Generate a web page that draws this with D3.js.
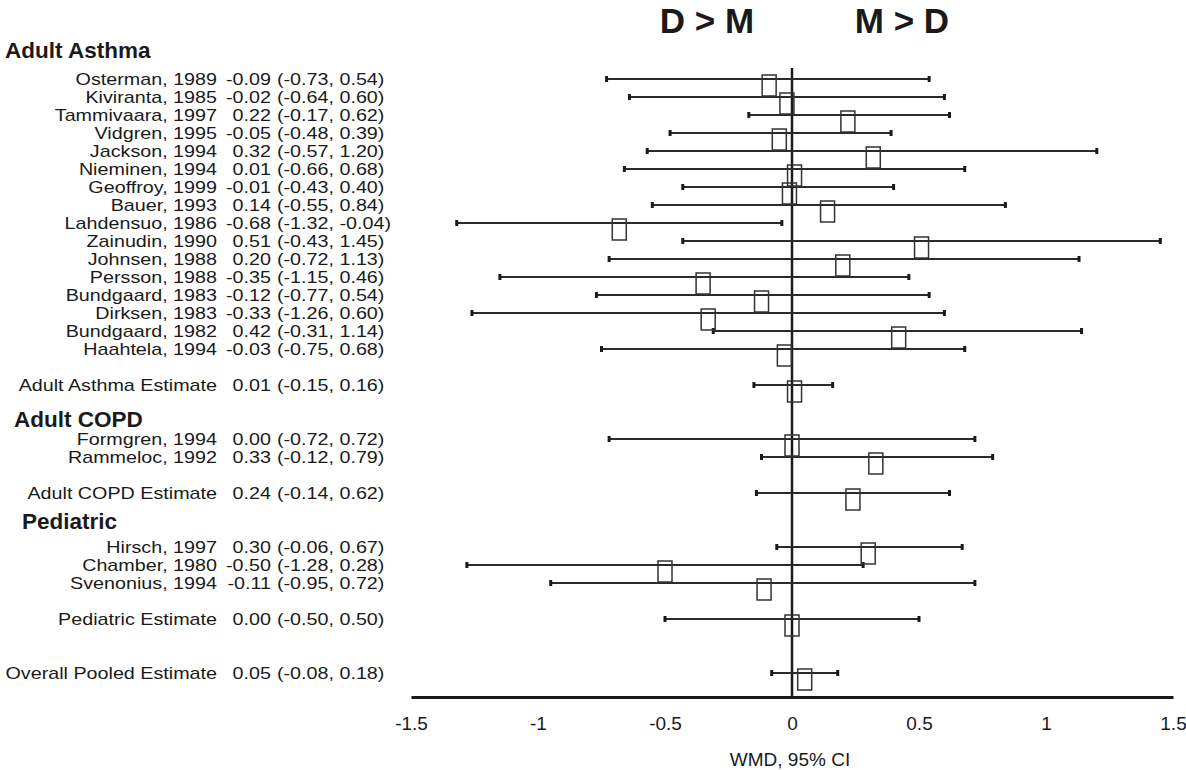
<!DOCTYPE html>
<html>
<head>
<meta charset="utf-8">
<script src="https://d3js.org/d3.v7.min.js"></script>
<style>
    body { margin: 0; background: #fff; }
    text { font-family: "Liberation Sans", Arial, sans-serif; fill: #1a1a1a; }
</style>
</head>
<body>
<div id="chart_01"></div>
<script>
// groups of the forest plot
const groupNames = ["Adult Asthma", "Adult COPD", "Pediatric"];

// studies (name, group index, WMD, lower and upper 95% CI)
const studyNames = ["Osterman, 1989", "Kiviranta, 1985", "Tammivaara, 1997", "Vidgren, 1995", "Jackson, 1994",
    "Nieminen, 1994", "Geoffroy, 1999", "Bauer, 1993", "Lahdensuo, 1986", "Zainudin, 1990", "Johnsen, 1988",
    "Persson, 1988", "Bundgaard, 1983", "Dirksen, 1983", "Bundgaard, 1982", "Haahtela, 1994",
    "Formgren, 1994", "Rammeloc, 1992",
    "Hirsch, 1997", "Chamber, 1980", "Svenonius, 1994"];
const studyGroup = [0, 0, 0, 0, 0, 0, 0, 0, 0, 0, 0, 0, 0, 0, 0, 0, 1, 1, 2, 2, 2];
const studyWmd = [-0.09, -0.02, 0.22, -0.05, 0.32, 0.01, -0.01, 0.14, -0.68, 0.51, 0.20, -0.35, -0.12, -0.33, 0.42, -0.03,
    0.00, 0.33, 0.30, -0.50, -0.11];
const studyLow = [-0.73, -0.64, -0.17, -0.48, -0.57, -0.66, -0.43, -0.55, -1.32, -0.43, -0.72, -1.15, -0.77, -1.26, -0.31, -0.75,
    -0.72, -0.12, -0.06, -1.28, -0.95];
const studyHigh = [0.54, 0.60, 0.62, 0.39, 1.20, 0.68, 0.40, 0.84, -0.04, 1.45, 1.13, 0.46, 0.54, 0.60, 1.14, 0.68,
    0.72, 0.79, 0.67, 0.28, 0.72];

// pooled estimates (one per group, then the overall one)
const estimateNames = ["Adult Asthma Estimate", "Adult COPD Estimate", "Pediatric Estimate", "Overall Pooled Estimate"];
const estimateWmd = [0.01, 0.24, 0.00, 0.05];
const estimateLow = [-0.15, -0.14, -0.50, -0.08];
const estimateHigh = [0.16, 0.62, 0.50, 0.18];

// x axis
const xTicks = [-1.5, -1, -0.5, 0, 0.5, 1, 1.5];
const xTitle = "WMD, 95% CI";
const sideLabels = ["D > M", "M > D"];

window.onload = function () {
    drawForest();
};

function drawForest() {
    let width = 1186,
        height = 770;

    // layout bits
    let axisY = 697;
    let headingX = [5, 14, 22];
    let headingShift = [-1.6, -1.1, -1.45];   // heading row, relative to the first study row
    let stretch = 1.16;                       // the labels in the picture are a bit wide

    let svg = d3.select("#chart_01")
        .append("svg")
        .attr("width", width)
        .attr("height", height);

    // build the list of rows: heading, studies, group estimate
    let rows = [];
    let slot = 0;
    groupNames.forEach(function (g, gi) {
        rows.push({type: "heading", label: g, slot: slot + headingShift[gi], group: gi});
        studyNames.forEach(function (name, i) {
            if (studyGroup[i] !== gi) return;
            rows.push({type: "study", label: name, est: studyWmd[i], lo: studyLow[i], hi: studyHigh[i], slot: slot});
            slot++;
        });
        slot++;
        rows.push({type: "estimate", label: estimateNames[gi], est: estimateWmd[gi], lo: estimateLow[gi], hi: estimateHigh[gi], slot: slot});
        slot += 3;
    });
    rows.push({type: "estimate", label: estimateNames[3], est: estimateWmd[3], lo: estimateLow[3], hi: estimateHigh[3], slot: slot});

    // scales
    let x = d3.scaleLinear()
        .domain([-1.5, 1.5])
        .range([411, 1173]);
    let y = d3.scaleLinear()
        .domain([0, 1])
        .range([79, 97]);

    // side labels on top
    svg.selectAll("sideLabels")
        .data(sideLabels)
        .enter()
        .append("text")
        .attr("x", function (d, i) { return i === 0 ? 707 : 902; })
        .attr("y", 33)
        .attr("text-anchor", "middle")
        .style("font-size", "35px")
        .style("font-weight", "bold")
        .text(function (d) { return d; });

    // headings
    let headings = rows.filter(function (d) { return d.type === "heading"; });
    svg.selectAll("headings")
        .data(headings)
        .enter()
        .append("text")
        .attr("x", function (d) { return headingX[d.group]; })
        .attr("y", function (d) { return y(d.slot); })
        .attr("dy", "0.35em")
        .style("font-size", "22.5px")
        .style("font-weight", "bold")
        .text(function (d) { return d.label; });

    let dataRows = rows.filter(function (d) { return d.type !== "heading"; });

    // labels: name, estimate, CI (group stretched horizontally)
    let fmt = function (v) { return v.toFixed(2); };
    let labels = svg.append("g")
        .attr("transform", "scale(" + stretch + ",1)")
        .style("font-size", "17px");
    labels.selectAll("names")
        .data(dataRows)
        .enter()
        .append("text")
        .attr("x", 217 / stretch)
        .attr("y", function (d) { return y(d.slot); })
        .attr("dy", "0.35em")
        .attr("text-anchor", "end")
        .text(function (d) { return d.label; });
    labels.selectAll("values")
        .data(dataRows)
        .enter()
        .append("text")
        .attr("x", 271 / stretch)
        .attr("y", function (d) { return y(d.slot); })
        .attr("dy", "0.35em")
        .attr("text-anchor", "end")
        .text(function (d) { return fmt(d.est); });
    labels.selectAll("cis")
        .data(dataRows)
        .enter()
        .append("text")
        .attr("x", 277 / stretch)
        .attr("y", function (d) { return y(d.slot); })
        .attr("dy", "0.35em")
        .text(function (d) { return "(" + fmt(d.lo) + ", " + fmt(d.hi) + ")"; });

    // zero line
    svg.append("line")
        .attr("x1", x(0)).attr("x2", x(0))
        .attr("y1", 68).attr("y2", axisY)
        .attr("stroke", "#1a1a1a")
        .attr("stroke-width", 2.5);

    // CI lines
    let marks = svg.append("g");
    marks.selectAll("ciLines")
        .data(dataRows)
        .enter()
        .append("line")
        .attr("x1", function (d) { return x(d.lo); })
        .attr("x2", function (d) { return x(d.hi); })
        .attr("y1", function (d) { return y(d.slot); })
        .attr("y2", function (d) { return y(d.slot); })
        .attr("stroke", "#2a2a2a")
        .attr("stroke-width", 2);

    // end caps
    let caps = [];
    dataRows.forEach(function (d) {
        caps.push({v: d.lo, slot: d.slot});
        caps.push({v: d.hi, slot: d.slot});
    });
    marks.selectAll("caps")
        .data(caps)
        .enter()
        .append("line")
        .attr("x1", function (d) { return x(d.v); })
        .attr("x2", function (d) { return x(d.v); })
        .attr("y1", function (d) { return y(d.slot) - 3; })
        .attr("y2", function (d) { return y(d.slot) + 3; })
        .attr("stroke", "#1a1a1a")
        .attr("stroke-width", 3);

    // boxes
    marks.selectAll("boxes")
        .data(dataRows)
        .enter()
        .append("rect")
        .attr("x", function (d) { return x(d.est) - 7; })
        .attr("y", function (d) { return y(d.slot) - 4; })
        .attr("width", 14)
        .attr("height", 21)
        .attr("fill", "none")
        .attr("stroke", "#333")
        .attr("stroke-width", 1.5);

    // x axis
    let axis = svg.append("g")
        .attr("transform", "translate(0," + axisY + ")")
        .call(d3.axisBottom(x)
            .tickValues(xTicks)
            .tickSize(0)
            .tickPadding(20)
            .tickFormat(function (d) { return String(d); }));
    axis.select(".domain")
        .attr("stroke", "#1a1a1a")
        .attr("stroke-width", 3);
    axis.selectAll("text")
        .style("font-family", "\"Liberation Sans\", Arial, sans-serif")
        .style("font-size", "19px")
        .attr("fill", "#1a1a1a");

    svg.append("text")
        .attr("x", 790)
        .attr("y", 766)
        .attr("text-anchor", "middle")
        .style("font-size", "19px")
        .text(xTitle);
}
</script>
</body>
</html>
